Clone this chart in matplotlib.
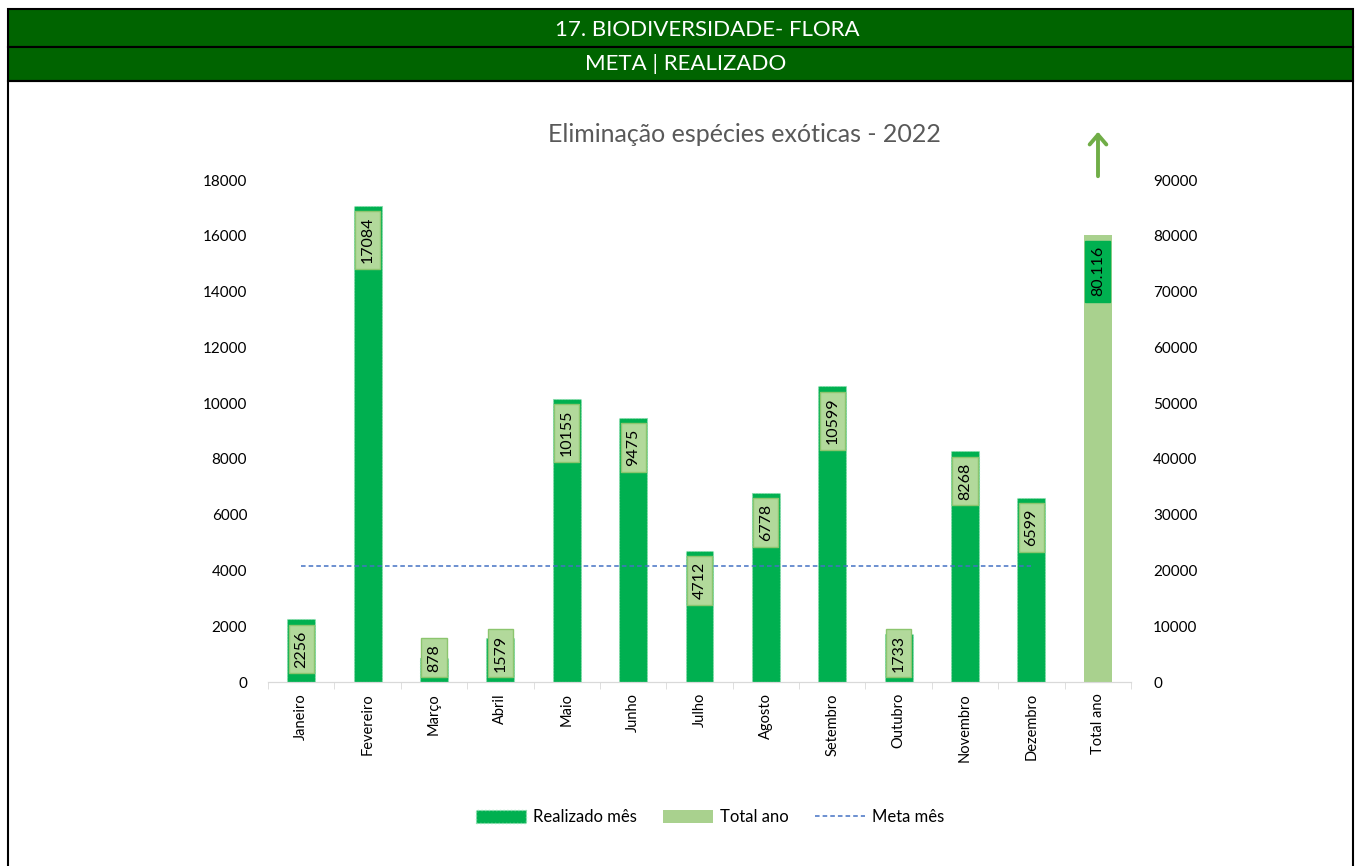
import numpy as np
import matplotlib.pyplot as plt
from matplotlib.patches import Rectangle, Patch, FancyArrowPatch
from matplotlib.lines import Line2D

plt.rcParams['font.family'] = ['Lato', 'DejaVu Sans']

# monthly data
months = ['Janeiro', 'Fevereiro', 'Março', 'Abril', 'Maio', 'Junho', 'Julho',
          'Agosto', 'Setembro', 'Outubro', 'Novembro', 'Dezembro']
realizado = [2256, 17084, 878, 1579, 10155, 9475, 4712, 6778, 10599, 1733, 8268, 6599]
total_ano = 80116
total_label = '80.116'
meta_mes = 4167
categories = months + ['Total ano']

DARK = '#00B050'
LIGHT = '#A9D18E'
HEADER = '#006400'

W, H = 1355, 866
fig = plt.figure(figsize=(W / 100, H / 100), dpi=100)

# header bands and frame
def px_rect(x0, y0, x1, y1, **kw):
    r = Rectangle((x0 / W, 1 - y1 / H), (x1 - x0) / W, (y1 - y0) / H,
                  transform=fig.transFigure, **kw)
    fig.patches.append(r)

px_rect(8, 9, 1353, 47, facecolor=HEADER, edgecolor='black', lw=1.5)
px_rect(8, 47, 1353, 81, facecolor=HEADER, edgecolor='black', lw=1.5)
px_rect(8, 81, 1353, 870, facecolor='none', edgecolor='black', lw=1.5)
fig.text(707 / W, 1 - 30 / H, '17. BIODIVERSIDADE- FLORA', color='white',
         fontsize=16, ha='center', va='center')
fig.text(686 / W, 1 - 64 / H, 'META | REALIZADO', color='white',
         fontsize=16, ha='center', va='center')

ax = fig.add_axes([268 / W, 1 - 682 / H, 863 / W, 502 / H])
ax2 = ax.twinx()

x = np.arange(len(categories))
bw = 0.42
ax.bar(x[:12], realizado, width=bw, color=DARK, edgecolor='#8FE0B0',
       linestyle=':', lw=0.8, zorder=2)
ax2.bar(x[12], total_ano, width=bw, color=LIGHT, zorder=2)
ax.plot(x[:12], [meta_mes] * 12, color='#4472C4', lw=1.1, ls=(0, (3, 2)), zorder=3)

# value labels at the bar ends; short bars get the label resting near the axis
box = dict(boxstyle='square,pad=0.35', fc='#B2D99B', ec='#8CC56E', lw=1)
for xi, v in zip(x[:12], realizado):
    if v < 2000:
        ax.annotate(str(v), (xi, 0), xytext=(0, 7.5), textcoords='offset points',
                    rotation=90, ha='center', va='bottom', fontsize=11.5,
                    zorder=4, bbox=box)
    else:
        ax.annotate(str(v), (xi, v), xytext=(0, -8), textcoords='offset points',
                    rotation=90, ha='center', va='top', fontsize=11.5,
                    zorder=4, bbox=box)
ax2.annotate(total_label, (x[12], total_ano), xytext=(0, -8),
             textcoords='offset points', rotation=90, ha='center', va='top',
             fontsize=11.5, zorder=4,
             bbox=dict(boxstyle='square,pad=0.35', fc=DARK, ec=DARK, lw=1))

ax.set_xlim(-0.5, 12.5)
ax.set_ylim(0, 18000)
ax2.set_ylim(0, 90000)
ax.set_yticks(range(0, 18001, 2000))
ax2.set_yticks(range(0, 90001, 10000))
ax.set_xticks(x)
ax.set_xticklabels(categories, rotation=90, fontsize=10.5)
ax.set_xticks(np.arange(-0.5, 13, 1), minor=True)
ax.tick_params(axis='x', which='major', length=0, pad=8)
ax.tick_params(axis='x', which='minor', length=5, color='#D9D9D9')
ax.tick_params(axis='y', length=0, labelsize=11, pad=15)
ax2.tick_params(axis='y', length=0, labelsize=11, pad=16)
for a in (ax, ax2):
    for s in ('top', 'left', 'right'):
        a.spines[s].set_visible(False)
    a.spines['bottom'].set_color('#D9D9D9')

fig.text(744 / W, 1 - 135 / H, 'Eliminação espécies exóticas - 2022',
         fontsize=18, color='#595959', ha='center', va='center')

# up arrow above the yearly total
fig.patches.append(FancyArrowPatch(
    (1098 / W, 1 - 179 / H), (1098 / W, 1 - 129 / H), transform=fig.transFigure,
    arrowstyle='->,head_length=7,head_width=6', color='#70AD47', lw=2.8))

handles = [Patch(facecolor=DARK, edgecolor='#8FE0B0', linestyle=':'),
           Patch(facecolor=LIGHT),
           Line2D([], [], color='#4472C4', ls=(0, (3, 2)), lw=1.1)]
fig.legend(handles, ['Realizado mês', 'Total ano', 'Meta mês'], loc='center',
           bbox_to_anchor=(710 / W, 1 - 817 / H), ncol=3, frameon=False,
           fontsize=12, handlelength=3, handleheight=0.8, handletextpad=0.4,
           columnspacing=1.6)

fig.savefig('out.png', dpi=100)
